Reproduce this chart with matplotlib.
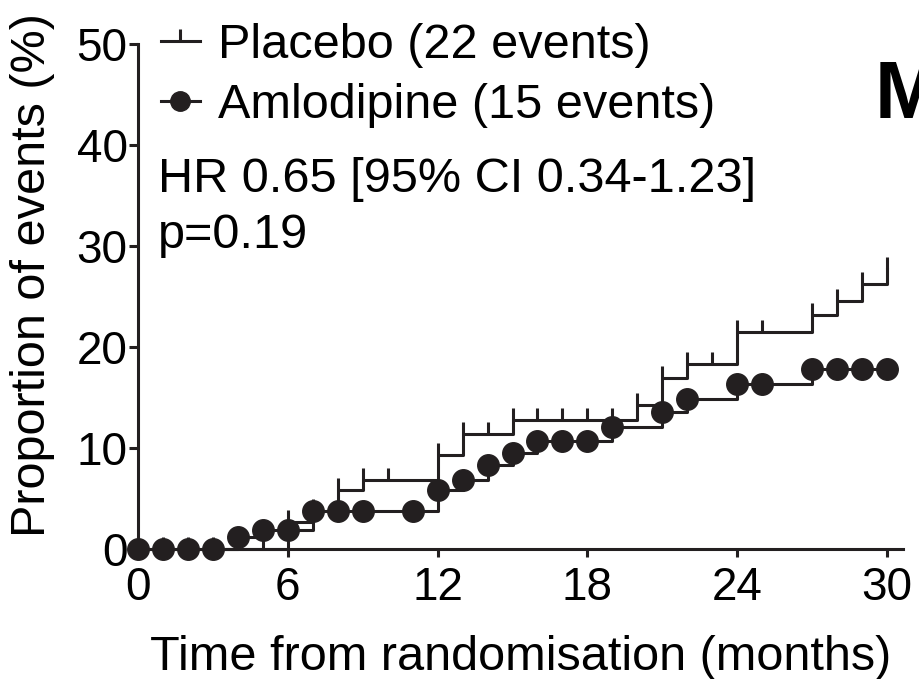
import matplotlib
matplotlib.use("Agg")
import matplotlib.pyplot as plt
from matplotlib.lines import Line2D

plt.rcParams['font.family'] = ['Liberation Sans', 'DejaVu Sans']

# cumulative proportion of events (%) by month
placebo_months = [0, 1, 2, 3, 4, 5, 6, 7, 8, 9, 10, 12, 13, 14, 15, 16, 17, 18, 19,
                  20, 21, 22, 23, 24, 25, 27, 28, 29, 30]
placebo_pct = [0, 0, 0, 0, 0, 0, 2.7, 3.8, 5.9, 6.9, 6.9, 9.3, 11.4, 11.4, 12.8, 12.8,
               12.8, 12.8, 12.8, 14.3, 17.0, 18.3, 18.3, 21.5, 21.5, 23.2, 24.6, 26.3, 27.7]

amlo_months = [0, 1, 2, 3, 4, 5, 6, 7, 8, 9, 11, 12, 13, 14, 15, 16, 17, 18, 19,
               21, 22, 24, 25, 27, 28, 29, 30]
amlo_pct = [0, 0, 0, 0, 1.2, 1.9, 1.9, 3.8, 3.8, 3.8, 3.8, 5.9, 6.9, 8.3, 9.5, 10.7,
            10.7, 10.7, 12.1, 13.6, 14.9, 16.4, 16.4, 17.8, 17.8, 17.8, 17.8]

labels = ['Placebo (22 events)', 'Amlodipine (15 events)']
hr_text = 'HR 0.65 [95% CI 0.34-1.23]'
p_text = 'p=0.19'

ink = '#231f20'
lw = 2.2

fig = plt.figure(figsize=(9.2, 6.79), dpi=100)
ax = fig.add_axes([0.15, 0.191, 0.831, 0.744])

ax.step(placebo_months, placebo_pct, where='post', color=ink, lw=lw,
        marker=2, ms=8.5, mew=lw, clip_on=False, zorder=3)
ax.step(amlo_months, amlo_pct, where='post', color=ink, lw=lw,
        marker='o', ms=15.5, mec=ink, mfc=ink, clip_on=False, zorder=4)

ax.set_xlim(0, 30.62)
ax.set_ylim(0, 50)
ax.set_xticks([0, 6, 12, 18, 24, 30])
ax.set_yticks([0, 10, 20, 30, 40, 50])
ax.tick_params(axis='both', direction='out', width=lw, color=ink, labelsize=33)
ax.tick_params(axis='x', length=6, pad=6)
ax.tick_params(axis='y', length=6.5, pad=1)
for side in ['top', 'right']:
    ax.spines[side].set_visible(False)
for side in ['left', 'bottom']:
    ax.spines[side].set_linewidth(lw)
    ax.spines[side].set_color(ink)

ax.set_xlabel('Time from randomisation (months)', fontsize=35, labelpad=18)
ax.set_ylabel('Proportion of events (%)', fontsize=35)
ax.yaxis.set_label_coords(-0.108, 0.543)

handles = [
    Line2D([], [], color=ink, lw=lw, marker=2, ms=8.5, mew=lw),
    Line2D([], [], color=ink, lw=lw, marker='o', ms=14),
]
fig.legend(handles, labels, loc='upper left', bbox_to_anchor=(161 / 920, 1 - 23 / 679),
           frameon=False, fontsize=35, handlelength=0.8, handletextpad=0.37,
           borderpad=0, borderaxespad=0, labelspacing=0.3)

fig.text(158 / 920, 1 - 192 / 679, hr_text, fontsize=35, va='baseline')
fig.text(158 / 920, 1 - 248 / 679, p_text, fontsize=35, va='baseline')
fig.text(875 / 920, 1 - 118 / 679, 'M', fontsize=58, fontweight='bold', va='baseline')

fig.savefig('out.png', dpi=100)
